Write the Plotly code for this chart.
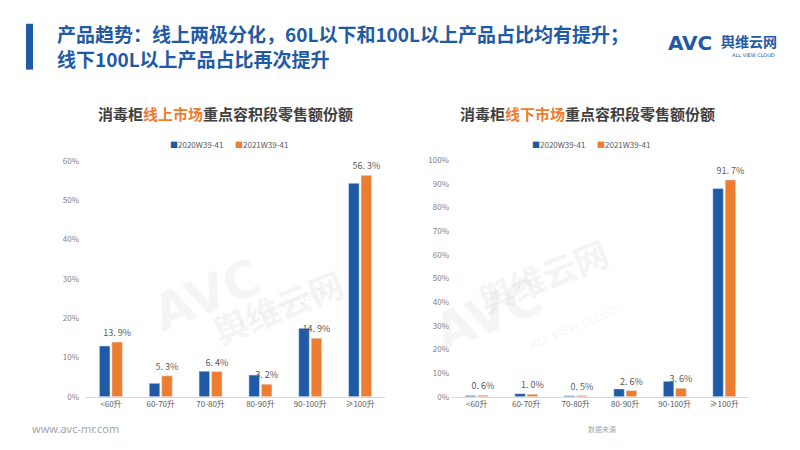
import plotly.graph_objects as go

# ---------------- data ----------------
categories = ["<60升", "60-70升", "70-80升", "80-90升", "90-100升", "≥100升"]
series_names = ["2020W39-41", "2021W39-41"]
online_2020 = [12.9, 3.4, 6.5, 5.5, 17.4, 54.3]
online_2021 = [13.9, 5.3, 6.4, 3.2, 14.9, 56.3]
offline_2020 = [0.5, 1.3, 0.4, 3.3, 6.5, 88.1]
offline_2021 = [0.6, 1.0, 0.5, 2.6, 3.6, 91.7]
online_ticks = [0, 10, 20, 30, 40, 50, 60]
offline_ticks = [0, 10, 20, 30, 40, 50, 60, 70, 80, 90, 100]

BLUE = "#1F5AA6"
ORANGE = "#ED7D31"
FONT = "Noto Sans CJK SC"
W, H = 800, 450


def px(x):
    return x / W


def py(y):
    return 1 - y / H


def lab(v):
    return f"{v:.1f}%".replace(".", ". ")


fig = go.Figure()

label_font = dict(size=9, color="#595959", family=FONT)
# left (online)
fig.add_trace(go.Bar(x=categories, y=online_2020, name=series_names[0], marker_color=BLUE,
                     xaxis="x", yaxis="y", showlegend=False))
fig.add_trace(go.Bar(x=categories, y=online_2021, name=series_names[1], marker_color=ORANGE,
                     xaxis="x", yaxis="y", showlegend=False,
                     text=[lab(v) for v in online_2021], textposition="outside",
                     constraintext="none", textfont=label_font, cliponaxis=False))
# right (offline)
fig.add_trace(go.Bar(x=categories, y=offline_2020, name=series_names[0], marker_color=BLUE,
                     xaxis="x2", yaxis="y2", showlegend=False))
fig.add_trace(go.Bar(x=categories, y=offline_2021, name=series_names[1], marker_color=ORANGE,
                     xaxis="x2", yaxis="y2", showlegend=False,
                     text=[lab(v) for v in offline_2021], textposition="outside",
                     constraintext="none", textfont=label_font, cliponaxis=False))

xaxis_common = dict(showgrid=False, showline=True, linecolor="#D9D9D9", linewidth=1,
                    ticks="", tickfont=dict(size=8, color="#595959", family=FONT),
                    fixedrange=True)
yaxis_common = dict(showgrid=False, showline=False, zeroline=False, ticks="",
                    tickfont=dict(size=8, color="#7F7F7F", family=FONT), fixedrange=True)

fig.update_layout(
    width=W, height=H,
    margin=dict(l=0, r=0, t=0, b=0),
    paper_bgcolor="white", plot_bgcolor="white",
    barmode="group", bargap=0.5, bargroupgap=0.15,
    font=dict(family=FONT),
    xaxis=dict(domain=[px(78), px(377)], anchor="y", **xaxis_common),
    yaxis=dict(domain=[py(392.3), py(150.5)], anchor="x", range=[0, 60],
               tickvals=online_ticks, ticktext=[f"{t}%" for t in online_ticks],
               ticklabelstandoff=6, **yaxis_common),
    xaxis2=dict(domain=[px(444), px(741)], anchor="y2", **xaxis_common),
    yaxis2=dict(domain=[py(392.3), py(150)], anchor="x2", range=[0, 100],
                tickvals=offline_ticks, ticktext=[f"{t}%" for t in offline_ticks],
                ticklabelstandoff=2, **yaxis_common),
)

ann = []
# faint watermarks
wm = "rgba(190,190,190,0.16)"
for (ax, ay, bx, by) in [(135, 340, 270, 300), (480, 360, 610, 320)]:
    ann += [
        dict(x=px(ax), y=py(ay), text="<b>AVC</b>", font=dict(size=50, color=wm, family="DejaVu Sans"), textangle=-22),
        dict(x=px(bx), y=py(by), text="<b>舆维云网</b>", font=dict(size=34, color=wm, family=FONT), textangle=-22),
        dict(x=px(bx + 5), y=py(by + 28), text="ALL VIEW CLOUD", font=dict(size=11, color=wm, family="DejaVu Sans"), textangle=-22),
    ]

# header
ann += [
    dict(x=px(47), y=py(33), xanchor="left", yanchor="middle", align="left",
         text="<b>产品趋势：线上两极分化，60L以下和100L以上产品占比均有提升；<br>线下100L以上产品占比再次提升</b>",
         font=dict(size=19, color=BLUE, family=FONT)),
    # logo
    dict(x=px(682), y=py(30), xanchor="center", yanchor="middle",
         text="<b>AVC</b>", font=dict(size=20, color=BLUE, family="DejaVu Sans")),
    dict(x=px(711), y=py(28), xanchor="left", yanchor="middle",
         text="<b>舆维云网</b>", font=dict(size=14, color=BLUE, family=FONT)),
    dict(x=px(745), y=py(42), xanchor="center", yanchor="middle",
         text="ALL VIEW CLOUD", font=dict(size=5, color=BLUE, family="DejaVu Sans")),
    # chart titles
    dict(x=px(217.5), y=py(102), xanchor="center", yanchor="middle",
         text="<b>消毒柜<span style='color:#ED7D31'>线上市场</span>重点容积段零售额份额</b>",
         font=dict(size=15, color="#404040", family=FONT)),
    dict(x=px(579.5), y=py(102), xanchor="center", yanchor="middle",
         text="<b>消毒柜<span style='color:#ED7D31'>线下市场</span>重点容积段零售额份额</b>",
         font=dict(size=15, color="#404040", family=FONT)),
    # footer
    dict(x=px(22), y=py(425), xanchor="left", yanchor="middle",
         text="www.avc-mr.com", font=dict(size=11, color="#A6A6A6", family="Noto Sans")),
    dict(x=px(578), y=py(425), xanchor="left", yanchor="middle",
         text="数据来源", font=dict(size=7, color="#A6A6A6", family=FONT)),
]

# legends (as text)
for cx in (220, 582):
    ann += [
        dict(x=px(cx - 3), y=py(134), xanchor="right", yanchor="middle",
             text=f"<span style='color:{BLUE}'>■</span>{series_names[0]}",
             font=dict(size=8, color="#595959", family=FONT)),
        dict(x=px(cx + 5), y=py(134), xanchor="left", yanchor="middle",
             text=f"<span style='color:{ORANGE}'>■</span>{series_names[1]}",
             font=dict(size=8, color="#595959", family=FONT)),
    ]

for a in ann:
    a.setdefault("xref", "paper")
    a.setdefault("yref", "paper")
    a.setdefault("showarrow", False)
fig.update_layout(annotations=ann)

fig.add_shape(type="rect", xref="paper", yref="paper",
              x0=px(18), x1=px(25), y0=py(57), y1=py(10),
              fillcolor=BLUE, line_width=0)

fig.write_html("out.html")
